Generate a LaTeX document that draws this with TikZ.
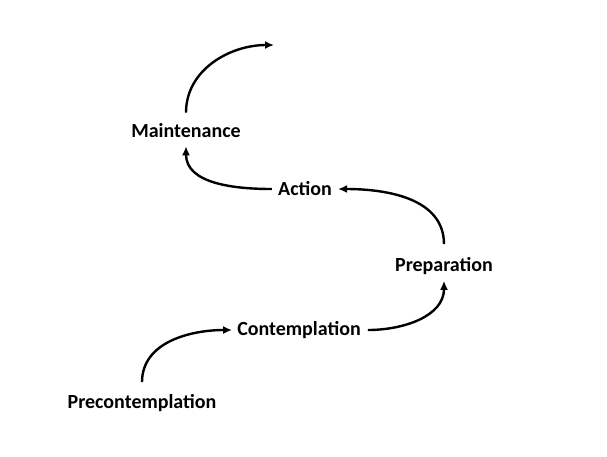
\documentclass[tikz,border=0pt]{standalone}
\usepackage{fontspec}
\setmainfont{Carlito}
\usepackage{tikz}
\usetikzlibrary{arrows.meta,positioning}

\begin{document}
\begin{tikzpicture}[
    x=1pt, y=-1pt,
    font=\fontsize{20}{24}\selectfont\bfseries,
    stage/.style={inner sep=0pt, anchor=center},
    line/.style={-{Latex[length=9pt,width=8pt]}, line width=2.4pt}
]
\useasboundingbox (0,0) rectangle (607,456);
\node[stage] (pre)   at (142,403) {Precontemplation};
\node[stage] (cont)  at (299,330) {Contemplation};
\node[stage] (prep)  at (444,266) {Preparation};
\node[stage] (act)   at (305,189) {Action};
\node[stage] (maint) at (186,131) {Maintenance};
\coordinate (next) at (274,45);

\draw[line] ([yshift=12]pre.north)    to[out=90,in=180]  ([xshift=-5]cont.west);
\draw[line] ([xshift=7]cont.east)     to[out=0,in=-90]   ([yshift=-6]prep.south);
\draw[line] ([yshift=13]prep.north)   to[out=90,in=0]    ([xshift=6]act.east);
\draw[line] ([xshift=-6]act.west)     to[out=180,in=-90] ([yshift=-8]maint.south);
\draw[line] ([yshift=11]maint.north)  to[out=90,in=180]  (next);
\end{tikzpicture}
\end{document}
